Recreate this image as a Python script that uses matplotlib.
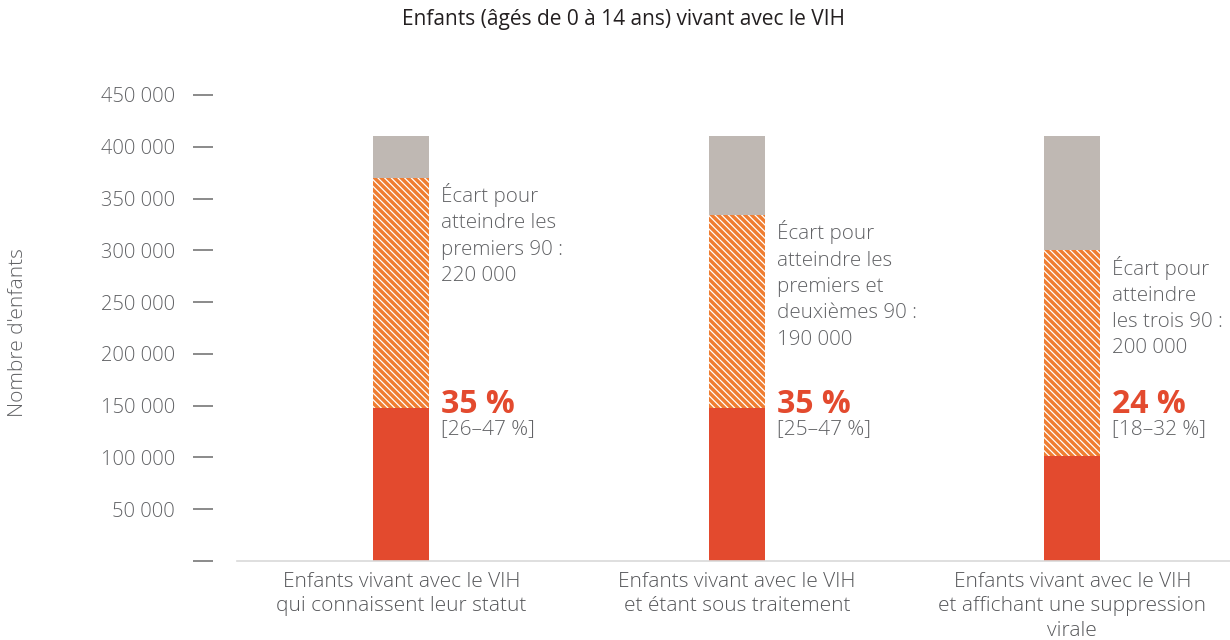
import matplotlib
matplotlib.use("Agg")
import matplotlib.pyplot as plt
import numpy as np

plt.rcParams['font.family'] = ['Open Sans', 'DejaVu Sans']
plt.rcParams['hatch.linewidth'] = 0.9

# ---- data ----
categories = ["Enfants vivant avec le VIH\nqui connaissent leur statut",
              "Enfants vivant avec le VIH\net étant sous traitement",
              "Enfants vivant avec le VIH\net affichant une suppression\nvirale"]
achieved = [148000, 148000, 101000]
gap = [222000, 186000, 199000]
total = [410000, 410000, 410000]
pct_labels = ["35 %", "35 %", "24 %"]
ci_labels = ["[26–47 %]", "[25–47 %]", "[18–32 %]"]
gap_labels = ["Écart pour\natteindre les\npremiers 90 :\n220 000",
              "Écart pour\natteindre les\npremiers et\ndeuxièmes 90 :\n190 000",
              "Écart pour\natteindre\nles trois 90 :\n200 000"]
yticks = [0, 50000, 100000, 150000, 200000, 250000, 300000, 350000, 400000, 450000]
ytick_labels = ["", "50 000", "100 000", "150 000", "200 000", "250 000",
                "300 000", "350 000", "400 000", "450 000"]

RED = "#e34a2e"
ORANGE = "#ef7d31"
GREY = "#bfb8b3"
TXT = "#616265"

PX = 72 / 100  # points per pixel at dpi 100

fig = plt.figure(figsize=(12.3, 6.4), dpi=100)
ax = fig.add_axes([237/1230, (640-561)/640, 1 - 237/1230, (561-95)/640])

for s in ["top", "right"]:
    ax.spines[s].set_visible(False)
ax.spines["left"].set_position(("outward", 24 * PX))
ax.spines["left"].set_visible(False)
ax.spines["bottom"].set_color("#d9d9d9")
ax.spines["bottom"].set_linewidth(1.2)

x = np.arange(len(categories))
w = 0.167
achieved = np.array(achieved)
gap = np.array(gap)
total = np.array(total)
rest = total - achieved - gap

ax.bar(x, achieved, width=w, color=RED, linewidth=0)
ax.bar(x, gap, width=w, bottom=achieved, color=ORANGE, edgecolor="white",
       linewidth=0, hatch="\\" * 5)
ax.bar(x, rest, width=w, bottom=achieved + gap, color=GREY, linewidth=0)

ax.set_xlim(-0.49, 2.47)
ax.set_ylim(0, 450000)

dx = w / 2 + 0.036
for i in range(len(categories)):
    ax.text(x[i] + dx, achieved[i] + gap[i] - 5000, gap_labels[i], ha="left", va="top",
            fontsize=14.8, color=TXT, linespacing=1.42, fontweight="light")
    ax.text(x[i] + dx, 151500, pct_labels[i], ha="left", va="center",
            fontsize=23, color=RED, fontweight="bold")
    ax.text(x[i] + dx, 127000, ci_labels[i], ha="left", va="center",
            fontsize=15, color=TXT, fontweight="light")

ax.set_xticks(x)
ax.set_xticklabels(categories, linespacing=1.28, fontweight="light")
ax.tick_params(axis="x", length=0, pad=8, labelsize=15, labelcolor="#555659")

ax.set_yticks(yticks)
ax.set_yticklabels(ytick_labels, fontweight="light")
ax.tick_params(axis="y", length=20 * PX, width=1.4, color="#8a8a8a", pad=18 * PX,
               direction="out", labelsize=14.5, labelcolor=TXT)

fig.text(624/1230, 1 - 20/640, "Enfants (âgés de 0 à 14 ans) vivant avec le VIH",
         ha="center", va="center", fontsize=15, color="#231f20")
fig.text(18/1230, 0.48, "Nombre d'enfants", rotation=90, ha="center", va="center",
         fontsize=15, color=TXT, fontweight="light")

fig.savefig("out.png", dpi=100)
